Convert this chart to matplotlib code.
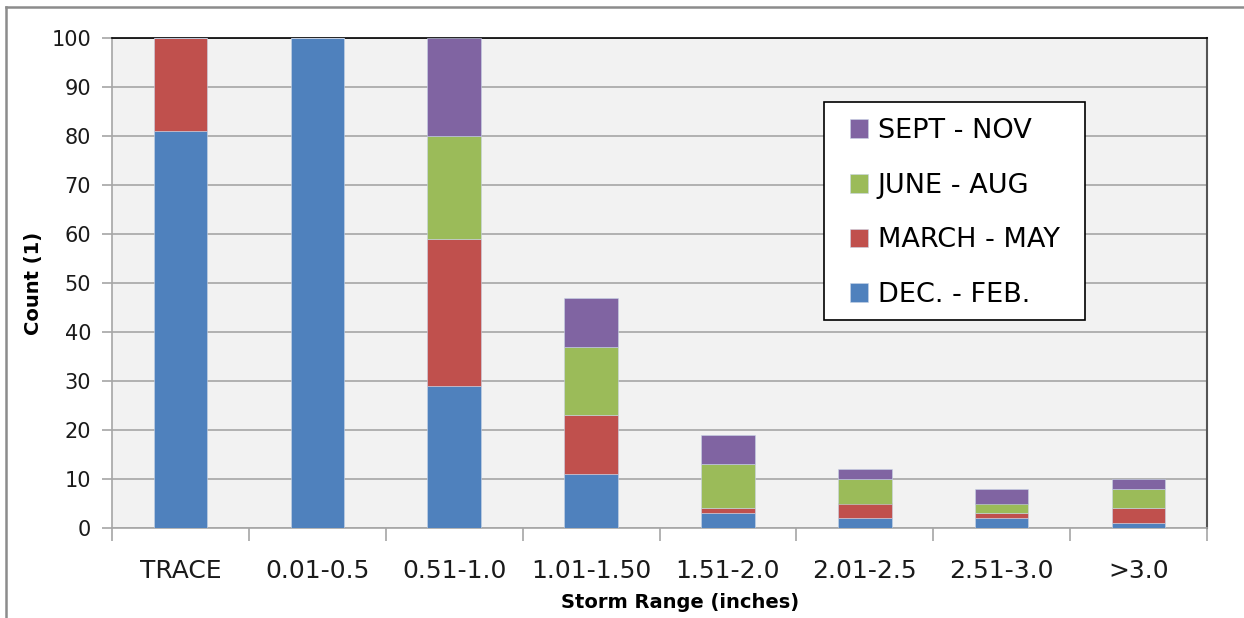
import matplotlib
matplotlib.use('Agg')
import matplotlib.pyplot as plt
import numpy as np
from matplotlib.lines import Line2D
from matplotlib.patches import Rectangle

# 风暴降雨区间及各季节计数
categories = ['TRACE', '0.01-0.5', '0.51-1.0', '1.01-1.50', '1.51-2.0', '2.01-2.5', '2.51-3.0', '>3.0']
dec_feb = [81, 100, 29, 11, 3, 2, 2, 1]
march_may = [19, 0, 30, 12, 1, 3, 1, 3]
june_aug = [0, 0, 21, 14, 9, 5, 2, 4]
sept_nov = [0, 0, 20, 10, 6, 2, 3, 2]

series = [
    ('DEC. - FEB.', dec_feb, '#4f81bd'),
    ('MARCH - MAY', march_may, '#c0504d'),
    ('JUNE - AUG', june_aug, '#9bbb59'),
    ('SEPT - NOV', sept_nov, '#8064a2'),
]

plt.rcParams['font.family'] = ['DejaVu Sans']
narrow = ['Liberation Sans Narrow', 'DejaVu Sans']

W, H = 1244, 618
fig = plt.figure(figsize=(W / 100, H / 100), dpi=100)
fig.patch.set_facecolor('white')
ax = fig.add_axes([112 / W, 1 - 528 / H, (1207 - 112) / W, (528 - 38) / H])
ax.set_facecolor('#f2f2f2')

# 图表外框（只有左边和上边）
fig.add_artist(Line2D([6 / W, 6 / W], [0, 1 - 7 / H], transform=fig.transFigure,
                      color='#8c8c8c', linewidth=1.8))
fig.add_artist(Line2D([6 / W, 1], [1 - 7 / H, 1 - 7 / H], transform=fig.transFigure,
                      color='#8c8c8c', linewidth=1.8))

x = np.arange(len(categories))
bottom = np.zeros(len(categories))
handles = []
for name, vals, color in series:
    vals = np.array(vals, dtype=float)
    h = ax.bar(x, vals, width=0.39, bottom=bottom, color=color, label=name,
               edgecolor='#c8d4e6', linewidth=0.4, zorder=3)
    handles.append(h)
    bottom += vals

ax.set_xlim(-0.5, len(categories) - 0.5)
ax.set_ylim(0, 100)
ax.set_yticks(np.arange(0, 101, 10))
ax.yaxis.grid(True, color='#a6a6a6', linewidth=1.2, zorder=0)
ax.set_axisbelow(True)

ax.set_xticks(x)
ax.set_xticklabels(categories, fontsize=18, color='#1a1a1a')
ax.set_xticks(np.arange(-0.5, len(categories)), minor=True)
ax.tick_params(axis='x', which='major', length=0, pad=22)
ax.tick_params(axis='x', which='minor', length=9, color='#a6a6a6', width=1.2)
ax.tick_params(axis='y', length=7, color='#a6a6a6', width=1.2, labelsize=15,
               labelcolor='#1a1a1a', pad=8)

for side in ['left', 'bottom']:
    ax.spines[side].set_color('#a6a6a6')
    ax.spines[side].set_linewidth(1.2)
ax.spines['top'].set_color('#000000')
ax.spines['top'].set_linewidth(1.2)
ax.spines['right'].set_color('#555555')
ax.spines['right'].set_linewidth(1.5)

ax.set_ylabel('Count (1)', fontsize=14, fontweight='bold', family=narrow)
ax.yaxis.set_label_coords((33 - 112) / 1095, 0.5)
ax.set_xlabel('Storm Range (inches)', fontsize=14, fontweight='bold', family=narrow)
ax.xaxis.set_label_coords((680 - 112) / 1095, -(602 - 528) / 490)
ax.xaxis.label.set_va('center')
ax.yaxis.label.set_va('center')

# 图例：白底黑框，框单独画
def px(xp, yp):
    return ((xp - 112) / 1095, (528 - yp) / 490)

x0, y0 = px(824, 320)
x1, y1 = px(1085, 102)
ax.add_patch(Rectangle((x0, y0), x1 - x0, y1 - y0, transform=ax.transAxes,
                       facecolor='white', edgecolor='#000000', linewidth=1.2, zorder=5))
leg = ax.legend(handles[::-1], [s[0] for s in series][::-1], loc='upper left',
                bbox_to_anchor=px(850, 118), fontsize=19.5, frameon=False,
                handlelength=0.68, handleheight=0.68, handletextpad=0.35,
                labelspacing=1.06, borderpad=0, borderaxespad=0)
leg.set_zorder(6)

fig.savefig('out.png', dpi=100)
